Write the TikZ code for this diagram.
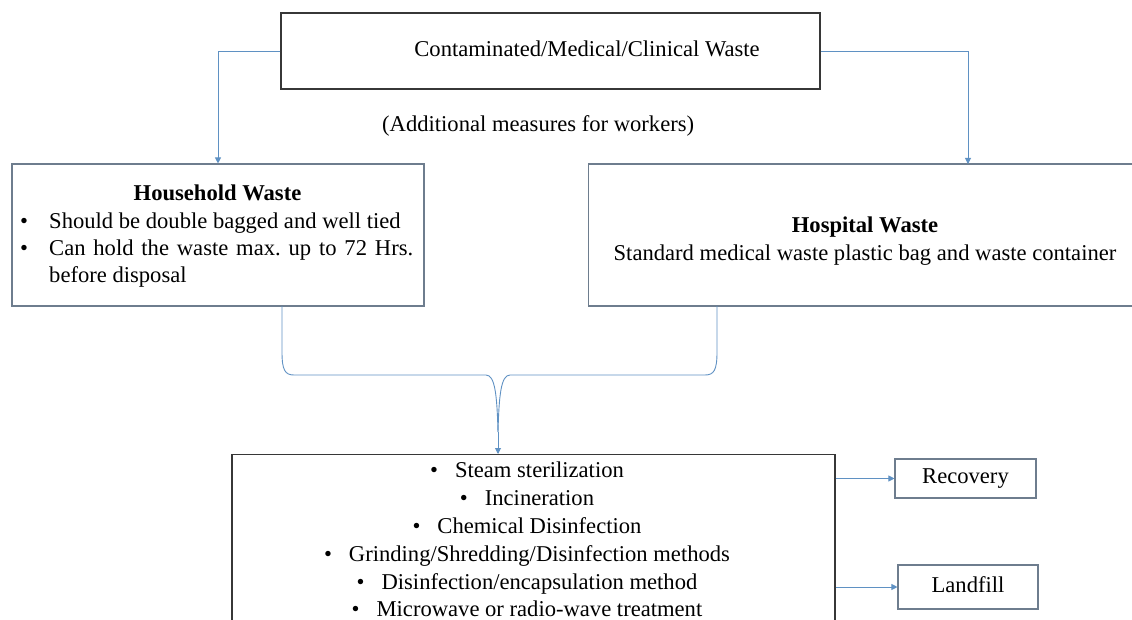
\documentclass[tikz,border=0pt]{standalone}
\usepackage{fontspec}
\setmainfont{Liberation Serif}
\usetikzlibrary{arrows.meta}
\definecolor{arr}{RGB}{95,145,195}
\definecolor{bxb}{RGB}{110,125,142}
\definecolor{bxd}{RGB}{55,55,55}
\frenchspacing
\begin{document}
\begin{tikzpicture}[x=1pt,y=-1pt,
  txt/.style={font=\fontsize{22.6}{26}\selectfont, inner sep=0pt, text height=15pt, text depth=5pt},
  bold/.style={txt, font=\fontsize{22.6}{26}\selectfont\bfseries},
  boxd/.style={draw=bxd, line width=1.1pt, inner sep=0pt},
  boxb/.style={draw=bxb, line width=1.1pt, inner sep=0pt},
  conn/.style={draw=arr, line width=0.9pt},
  arrow/.style={conn, -{Triangle[length=6pt,width=6pt]}}]
\useasboundingbox (0,0) rectangle (1132,620);
\clip (0,0) rectangle (1132,620);
% boxes
\node[boxd, minimum width=539pt, minimum height=76pt] (top) at (550.5,51) {};
\node[boxb, minimum width=412pt, minimum height=142pt] (hh) at (218,235) {};
\node[boxb, minimum width=554pt, minimum height=142pt, anchor=west] (hosp) at (588,235) {};
\node[boxd, minimum width=603pt, minimum height=190pt, anchor=north] (bot) at (533.5,454) {};
\node[boxb, minimum width=141pt, minimum height=39pt] (rec) at (965.5,478.5) {};
\node[boxb, minimum width=140pt, minimum height=44pt] (lf) at (968,587) {};
% texts
\node[txt] (toptxt) at (587,52) {Contaminated/Medical/Clinical Waste};
\node[txt, anchor=west] (add) at (382,127) {(Additional measures for workers)};
\node[bold] (hht) at (217.5,196) {Household Waste};
\node[txt, anchor=west] (hb1) at (20,224) {\textbullet};
\node[txt, anchor=west] (hl1) at (49,224) {Should be double bagged and well tied};
\node[txt, anchor=west] (hb2) at (20,251) {\textbullet};
\node[txt, anchor=west] (hl2) at (49,251) {\makebox[364pt][s]{Can hold the waste max. up to 72 Hrs.}};
\node[txt, anchor=west] (hl3) at (49,278) {before disposal};
\node[bold] (hpt) at (865,228) {Hospital Waste};
\node[txt] (hpl) at (865,256) {Standard medical waste plastic bag and waste container};
\node[txt] (b1) at (527,472) {\textbullet\hspace{17pt}Steam sterilization};
\node[txt] (b2) at (527,500) {\textbullet\hspace{17pt}Incineration};
\node[txt] (b3) at (527,528) {\textbullet\hspace{17pt}Chemical Disinfection};
\node[txt] (b4) at (527,556) {\textbullet\hspace{17pt}Grinding/Shredding/Disinfection methods};
\node[txt] (b5) at (527,584) {\textbullet\hspace{17pt}Disinfection/encapsulation method};
\node[txt] (b6) at (527,611) {\textbullet\hspace{17pt}Microwave or radio-wave treatment};
\node[txt] (rect) at (rec.center) {Recovery};
\node[txt] (lft) at (lf.center) {Landfill};
% connectors
\coordinate (hospin) at (968,164);
\draw[arrow] (top.west) -| (hh.north);
\draw[arrow] (top.east) -| (hospin);
\coordinate (lleg) at (282,306);
\coordinate (rleg) at (717,306);
\coordinate (tip) at (498,432);
\draw[conn] (lleg) -- (282,352) .. controls (282,370) and (285,375) .. (294,375)
  -- (486,375) .. controls (495,375) and (497,395) .. (tip);
\draw[conn] (rleg) -- (717,352) .. controls (717,370) and (714,375) .. (705,375)
  -- (510,375) .. controls (501,375) and (499,395) .. (tip);
\draw[arrow] (tip) -- (bot.north -| tip);
\draw[arrow] (bot.east |- rec.west) -- (rec.west);
\draw[arrow] (bot.east |- lf.west) -- (lf.west);
\end{tikzpicture}
\end{document}
